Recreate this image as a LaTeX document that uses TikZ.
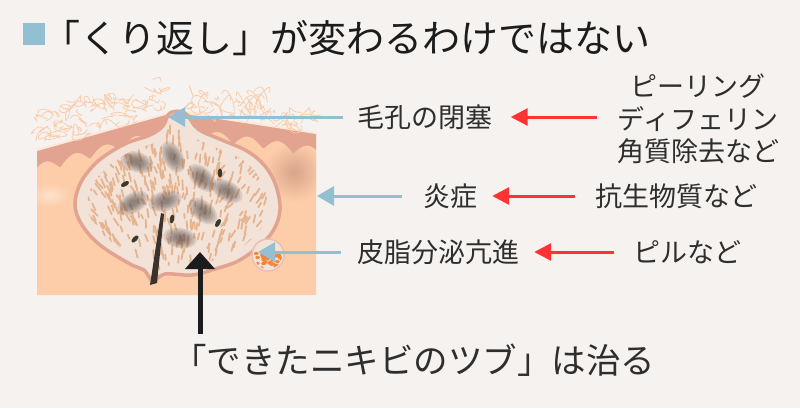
\documentclass[tikz,border=0pt]{standalone}
\usepackage{fontspec}
\newfontfamily\jp{Noto Sans CJK JP}
\usetikzlibrary{arrows.meta,positioning}
\definecolor{bgcol}{HTML}{F5F2EF}
\definecolor{skincol}{HTML}{FDCDAA}
\definecolor{epicol}{HTML}{E2A491}
\definecolor{cystcol}{HTML}{F3E2D8}
\definecolor{fibercol}{HTML}{E6B38F}
\definecolor{flakecol}{HTML}{FCCBA6}
\definecolor{spotcol}{HTML}{D9A38A}
\definecolor{bluecol}{HTML}{93BFD3}
\definecolor{redcol}{HTML}{FF3333}
\definecolor{inkcol}{HTML}{2E2E2E}
\definecolor{titlecol}{HTML}{1C1C1C}
\definecolor{seedcol}{HTML}{3A3A2C}
\definecolor{blobcol}{HTML}{4F4642}
\definecolor{haircol}{HTML}{3B322C}
\definecolor{glandcol}{HTML}{F0873A}
\newcommand\cystpath{plot[smooth cycle, tension=0.6] coordinates {(170,113) (185,113) (198,129) (222,140) (247,151) (265,166) (276,186) (280,210) (273,231) (258,247) (238,261) (215,269) (192,275) (165,274) (153,281) (144,270) (130,264) (100,245) (82,225) (75,205) (80,184) (92,167) (106,155) (127,143) (150,135) (163,126)}}
\begin{document}
\begin{tikzpicture}[x=1pt,y=-1pt,
  labeltext/.style={font=\jp\fontsize{27}{32.5}\selectfont, text=inkcol, inner sep=0pt, align=center},
  bluearrow/.style={draw=bluecol, line width=3pt, -{Triangle[length=17pt,width=19pt]}},
  redarrow/.style={draw=redcol, line width=3pt, -{Triangle[length=17pt,width=17pt]}},
  curearrow/.style={draw=titlecol, line width=5pt, -{Triangle[length=17pt,width=29pt]}},
  fiber/.style={fibercol, line width=1.8pt, line cap=round},
  flake/.style={flakecol, line width=0.7pt},
  blob/.style={blobcol, opacity=0.14}]
  \useasboundingbox (0,0) rectangle (800,408);
  \fill[bgcol] (0,0) rectangle (800,408);
  \pgfmathsetseed{7}

  \coordinate (pore) at (168,114);
  \coordinate (skinedge) at (317,196);
  \coordinate (gland) at (258,252);
  \coordinate (spot) at (200,252);

  % skin
  \fill[skincol] (37,150) -- (170,113) -- (185,113) -- (316,133) -- (316,295) -- (37,295) -- cycle;
  \begin{scope}
    \clip (37,100) rectangle (316,295);
    \shade[inner color=spotcol, outer color=skincol] (294,172) circle (30);
    \shade[inner color=white!40!skincol, outer color=skincol] (50,195) ellipse [x radius=20, y radius=12];
  \end{scope}
  \fill[epicol] (37,150) -- (170,113) -- (166,128)
    -- plot[domain=166:37, samples=90] (\x,{150-(\x-37)*0.2824+24-10*abs(sin(6*\x))}) -- cycle;
  \fill[epicol] (185,113) -- (316,133)
    -- plot[domain=316:188, samples=90] (\x,{113+(\x-185)*0.1515+24-10*abs(sin(6*\x+40))}) -- cycle;
  \draw[white!55!skincol, line width=2pt] (37,150) -- (169,113);
  \draw[white!55!skincol, line width=2pt] (186,113) -- (316,133);

  % cyst
  \fill[cystcol] \cystpath;
  \begin{scope}
    \clip[shift={(177,205)}, scale=0.88, shift={(-177,-205)}] \cystpath;
    \foreach \i in {1,...,520}{
      \pgfmathsetmacro\gx{72+rnd*210}
      \pgfmathsetmacro\gy{125+rnd*155}
      \pgfmathsetmacro\ga{90+(\gx-177)*0.4+rnd*24-12}
      \draw[fiber] (\gx,\gy) -- ++(\ga:{4+rnd*6});
    }
    \foreach \bx/\by/\ba in {137/162/-20, 173/157/-60, 202/178/-45, 227/191/-30,
                              133/203/30, 165/201/15, 203/211/-40, 180/238/-10}{
      \foreach \k in {0,...,5}
        \fill[blob, rotate around={\ba:(\bx,\by)}] (\bx,\by) ellipse [x radius={17-2.4*\k}, y radius={10-1.4*\k}];
    }
    \foreach \sx/\sy/\sa in {125/184/30, 220/173/90, 172/219/80, 218/223/60, 135/239/45}
      \fill[seedcol, rotate around={\sa:(\sx,\sy)}] (\sx,\sy) ellipse [x radius=4.5, y radius=2.3];
  \end{scope}
  \draw[epicol, line width=3.5pt] \cystpath;
  \fill[haircol] (161,213) -- (164,214) -- (157,283) -- (150,285) -- cycle;

  % gland
  \fill[cystcol] (268,255) circle (16);
  \begin{scope}
    \clip (268,255) circle (14);
    \foreach \i in {1,...,45}{
      \pgfmathsetmacro\ox{256+rnd*26}
      \pgfmathsetmacro\oy{252+rnd*18}
      \fill[glandcol] (\ox,\oy) ellipse [x radius=2.3, y radius=1.6];
    }
  \end{scope}
  \draw[epicol!70!white, line width=1.5pt] (268,255) circle (16);

  % flakes
  \foreach \i in {1,...,70}{
    \pgfmathsetmacro\fx{40+rnd*125}
    \pgfmathsetmacro\fy{150-(\fx-37)*0.2824-2-rnd*34}
    \pgfmathsetmacro\ca{rnd*360}
    \pgfmathsetmacro\cb{rnd*360}
    \pgfmathsetmacro\fl{6+rnd*12}
    \draw[flake] (\fx,\fy) .. controls +(\ca:\fl) and +(\cb:\fl) .. ++({(rnd-0.5)*30},{(rnd-0.5)*10});
  }
  \foreach \i in {1,...,45}{
    \pgfmathsetmacro\fx{188+rnd*125}
    \pgfmathsetmacro\fy{113+(\fx-185)*0.1515-2-rnd*18}
    \pgfmathsetmacro\ca{rnd*360}
    \pgfmathsetmacro\cb{rnd*360}
    \pgfmathsetmacro\fl{6+rnd*12}
    \draw[flake] (\fx,\fy) .. controls +(\ca:\fl) and +(\cb:\fl) .. ++({(rnd-0.5)*30},{(rnd-0.5)*10});
  }
  \foreach \i in {1,...,12}{
    \pgfmathsetmacro\fx{200+rnd*70}
    \pgfmathsetmacro\fy{90+rnd*20}
    \draw[flake] (\fx,\fy) .. controls +({rnd*20-10},-12) and +({rnd*20-10},-10) .. ++({rnd*30-15},{8+rnd*10});
  }

  % title
  \node[fill=bluecol, minimum size=22pt, inner sep=0pt] (tsq) at (34,34) {};
  \node[anchor=west, inner sep=0pt, font=\jp\fontsize{38}{42}\selectfont, text=titlecol] (title) at (42,38) {「くり返し」が変わるわけではない};

  % labels
  \node[labeltext] (clog) at (425,117) {毛孔の閉塞};
  \node[labeltext] (inflam) at (450,196) {炎症};
  \node[labeltext] (sebum) at (438,252) {皮脂分泌亢進};
  \node[labeltext] (peel) at (698,119) {ピーリング\\ディフェリン\\角質除去など};
  \node[labeltext] (anti) at (676,196) {抗生物質など};
  \node[labeltext] (pill) at (687,252) {ピルなど};
  \node[anchor=west, inner sep=0pt, font=\jp\fontsize{34.5}{40}\selectfont, text=inkcol] (cure) at (172,360) {「できたニキビのツブ」は治る};

  \draw[bluearrow, shorten <=14pt] (clog.west) -- (clog.west -| pore);
  \draw[bluearrow, shorten <=21pt] (inflam.west) -- (inflam.west -| skinedge);
  \draw[bluearrow, shorten <=16pt] (sebum.west) -- (sebum.west -| gland);
  \draw[redarrow, shorten <=20pt, shorten >=18pt] (peel.west |- clog.east) -- (clog.east);
  \draw[redarrow, shorten <=20pt, shorten >=15pt] (anti.west) -- (inflam.east);
  \draw[redarrow, shorten <=19pt, shorten >=15pt] (pill.west) -- (sebum.east);
  \draw[curearrow, shorten <=10pt] (spot |- cure.north) -- (spot);
\end{tikzpicture}
\end{document}
